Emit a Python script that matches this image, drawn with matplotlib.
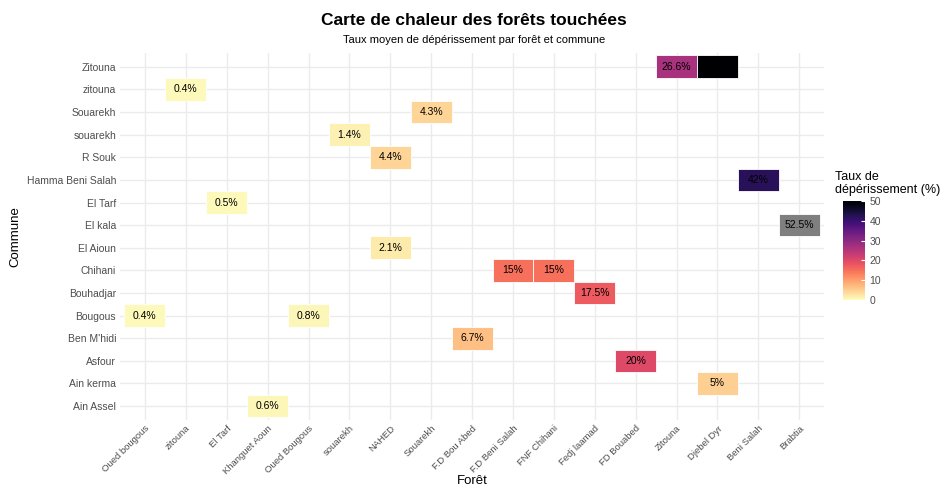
import matplotlib.pyplot as plt
import matplotlib as mpl
import numpy as np

plt.rcParams['font.family'] = ['Liberation Sans', 'DejaVu Sans']

forets = ['Oued bougous', 'zitouna', 'El Tarf', 'Khanguet Aoun', 'Oued Bougous',
          'souarekh', 'NAHED', 'Souarekh', 'F.D Bou Abed', 'F.D Beni Salah',
          'FNF Chihani', 'Fedj laamad', 'FD Bouabed', 'Zitouna', 'Djebel Dyr',
          'Beni Salah', 'Brabtia']
communes = ['Ain Assel', 'Ain kerma', 'Asfour', "Ben M'hidi", 'Bougous', 'Bouhadjar',
            'Chihani', 'El Aioun', 'El kala', 'El Tarf', 'Hamma Beni Salah', 'R Souk',
            'souarekh', 'Souarekh', 'zitouna', 'Zitouna']

# (commune, foret, taux)
cell_commune = ['Zitouna', 'Zitouna', 'zitouna', 'Souarekh', 'souarekh', 'R Souk',
                'Hamma Beni Salah', 'El Tarf', 'El kala', 'El Aioun', 'Chihani', 'Chihani',
                'Bouhadjar', 'Bougous', 'Bougous', "Ben M'hidi", 'Asfour', 'Ain kerma',
                'Ain Assel']
cell_foret = ['Zitouna', 'Djebel Dyr', 'zitouna', 'Souarekh', 'souarekh', 'NAHED',
              'Beni Salah', 'El Tarf', 'Brabtia', 'NAHED', 'F.D Beni Salah', 'FNF Chihani',
              'Fedj laamad', 'Oued bougous', 'Oued Bougous', 'F.D Bou Abed', 'FD Bouabed',
              'Djebel Dyr', 'Khanguet Aoun']
cell_taux = [26.6, 50, 0.4, 4.3, 1.4, 4.4, 42, 0.5, 52.5, 2.1, 15, 15, 17.5, 0.4, 0.8,
             6.7, 20, 5, 0.6]

cmap = plt.get_cmap('magma_r')
norm = mpl.colors.Normalize(vmin=0, vmax=50)

fig = plt.figure(figsize=(9.48, 4.88), dpi=100)
ax = fig.add_axes([0.127, 0.140, 0.742, 0.751])

for c, f, v in zip(cell_commune, cell_foret, cell_taux):
    xi = forets.index(f)
    yi = communes.index(c)
    col = cmap(norm(v)) if v <= 50 else '#7f7f7f'
    ax.add_patch(plt.Rectangle((xi - 0.5, yi - 0.5), 1, 1, facecolor=col,
                               edgecolor='white', linewidth=0.6, zorder=2))
    lab = ('%g' % v) + '%'
    ax.text(xi, yi, lab, ha='center', va='center', fontsize=7.5, color='black', zorder=3)

ax.set_xlim(-0.6, len(forets) - 0.4)
ax.set_ylim(-0.6, len(communes) - 0.4)
ax.set_xticks(range(len(forets)))
ax.set_xticklabels(forets, rotation=45, ha='right', rotation_mode='anchor',
                   fontsize=6.8, color='#4d4d4d')
ax.set_yticks(range(len(communes)))
ax.set_yticklabels(communes, fontsize=7.5, color='#4d4d4d')
ax.tick_params(length=0, pad=3)
ax.grid(True, color='#ebebeb', linewidth=1, zorder=0)
ax.set_axisbelow(True)
for s in ax.spines.values():
    s.set_visible(False)
ax.set_xlabel('Forêt', fontsize=9.5)
ax.xaxis.set_label_coords(0.5, -0.152)
ax.set_ylabel('Commune', fontsize=9.5, labelpad=4)

fig.text(0.5, 0.957, 'Carte de chaleur des forêts touchées', ha='center', va='center',
         fontsize=12.5, fontweight='bold')
fig.text(0.5, 0.918, 'Taux moyen de dépérissement par forêt et commune', ha='center',
         va='center', fontsize=8)

cax = fig.add_axes([0.889, 0.385, 0.023, 0.203])
cb = mpl.colorbar.ColorbarBase(cax, cmap=cmap, norm=norm)
cb.outline.set_visible(False)
cb.set_ticks([0, 10, 20, 30, 40, 50])
cax.tick_params(labelsize=7.5, colors='#4d4d4d', length=3, direction='in')
cax.tick_params(axis='y', color='white')
fig.text(0.881, 0.598, 'Taux de\ndépérissement (%)', ha='left', va='bottom', fontsize=9,
         linespacing=1.1)

fig.savefig('out.png', dpi=100, facecolor='white')
